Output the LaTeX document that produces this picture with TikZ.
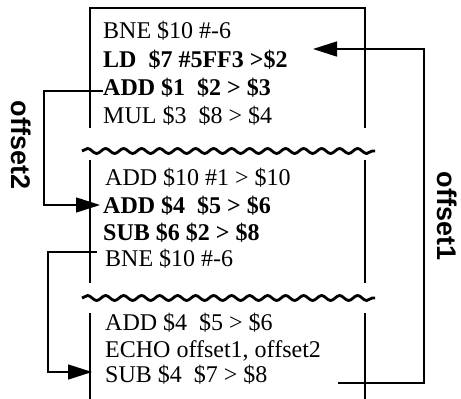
\documentclass[tikz,border=0pt]{standalone}
\usepackage{fontspec}
\setmainfont{Liberation Serif}
\newfontfamily\labelfont{Liberation Sans}
\usetikzlibrary{arrows.meta,decorations.pathmorphing}
\begin{document}
\begin{tikzpicture}[x=1pt,y=-1pt,
  code/.style={anchor=base west,inner sep=0pt,font=\fontsize{24}{28}\selectfont},
  boldcode/.style={code,font=\fontsize{24}{28}\selectfont\bfseries},
  boxline/.style={line width=1.4pt},
  wave/.style={line width=2.8pt,decorate,decoration={snake,segment length=18pt,amplitude=2.5pt}},
  jump/.style={line width=1.5pt,-{Triangle[length=24pt,width=15pt]}},
  lbl/.style={font=\labelfont\bfseries\fontsize{27}{30}\selectfont,rotate=-90,inner sep=0pt}]
\useasboundingbox (0,0) rectangle (461,399);
% box segments
\draw[boxline] (90,128) -- (90,8) -- (365,8) -- (365,128);
\draw[boxline] (90,160) -- (90,283);
\draw[boxline] (365,160) -- (365,283);
\draw[boxline] (90,313) -- (90,399);
\draw[boxline] (365,313) -- (365,399);
% waves
\draw[wave] (82,151) -- (375,151);
\draw[wave] (82,298) -- (375,298);
% block 1
\node[code] (a1) at (103,38) {BNE \$10 \#-6};
\node[boldcode] (a2) at (103,67) {LD~ \$7 \#5FF3 >\$2};
\node[boldcode] (a3) at (103,95) {ADD \$1~ \$2 > \$3};
\node[code] (a4) at (103,123) {MUL \$3~ \$8 > \$4};
% block 2
\node[code] (b1) at (105,185) {ADD \$10 \#1 > \$10};
\node[boldcode] (b2) at (103,213) {ADD \$4~ \$5 > \$6};
\node[boldcode] (b3) at (103,240) {SUB \$6 \$2 > \$8};
\node[code] (b4) at (105,266) {BNE \$10 \#-6};
% block 3
\node[code] (c1) at (105,330) {ADD \$4~ \$5 > \$6};
\node[code] (c2) at (105,357) {ECHO offset1, offset2};
\node[code] (c3) at (105,382) {SUB \$4~ \$7 > \$8};
% connectors
\coordinate (o1a) at (338,383);
\coordinate (o1b) at (424,49);
\coordinate (o1t) at (313,49);
\draw[jump] (o1a) -| (o1b) -- (o1t);
\coordinate (o2a) at (103,91);
\coordinate (o2b) at (44,205);
\coordinate (o2t) at (100,205);
\draw[jump] (o2a) -| (o2b) -- (o2t);
\coordinate (o3a) at (97,252);
\coordinate (o3b) at (48,372);
\coordinate (o3t) at (92,372);
\draw[jump] (o3a) -| (o3b) -- (o3t);
% labels
\node[lbl] (off2) at (21,145) {offset2};
\node[lbl] (off1) at (447,216) {offset1};
\end{tikzpicture}
\end{document}
